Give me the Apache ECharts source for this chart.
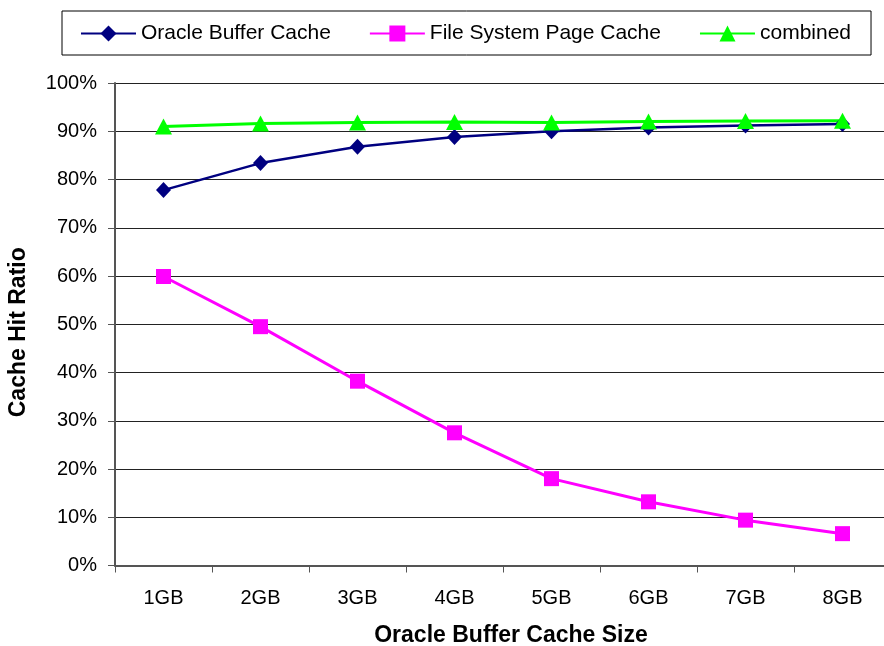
<!DOCTYPE html>
<html>
<head>
<meta charset="utf-8">
<script src="https://cdn.jsdelivr.net/npm/echarts@6/dist/echarts.min.js"></script>
<style>
html,body{margin:0;padding:0;background:#fff;}
#chart{width:884px;height:646px;}
</style>
</head>
<body>
<div id="chart"></div>
<script>
const categories = ['1GB','2GB','3GB','4GB','5GB','6GB','7GB','8GB'];
const oracleBufferCache = [0.778, 0.834, 0.868, 0.888, 0.900, 0.908, 0.912, 0.915];
const fileSystemPageCache = [0.599, 0.495, 0.382, 0.275, 0.180, 0.132, 0.094, 0.066];
const combined = [0.910, 0.916, 0.918, 0.919, 0.918, 0.920, 0.921, 0.922];
const yTicks = {min: 0, max: 1, interval: 0.1};

const FONT = '"Liberation Sans", Arial, sans-serif';
const chart = echarts.init(document.getElementById('chart'), null, {renderer: 'canvas'});
chart.setOption({
  animation: false,
  backgroundColor: '#fff',
  grid: {left: 115, top: 83, width: 776, height: 482.5, containLabel: false, outerBoundsMode: 'none'},
  legend: {
    left: 62, top: 11,
    padding: [12, 20, 11, 18],
    borderColor: '#000', borderWidth: 1,
    itemWidth: 55, itemHeight: 20, itemGap: 38,
    textStyle: {fontFamily: FONT, fontSize: 21, color: '#000'},
    data: ['Oracle Buffer Cache', 'File System Page Cache', 'combined']
  },
  xAxis: {
    type: 'category',
    data: categories,
    boundaryGap: true,
    name: 'Oracle Buffer Cache Size',
    nameLocation: 'middle',
    nameGap: 59,
    nameTextStyle: {fontFamily: FONT, fontSize: 23, fontWeight: 'bold', color: '#000', padding: [0, 0, 0, 16]},
    axisLine: {show: true, lineStyle: {color: '#555', width: 2}},
    axisTick: {show: true, length: 7, interval: 0, alignWithLabel: false, lineStyle: {color: '#555', width: 1}},
    axisLabel: {fontFamily: FONT, fontSize: 20, color: '#000', margin: 23, interval: 0},
    splitLine: {show: false}
  },
  yAxis: {
    type: 'value',
    min: yTicks.min, max: yTicks.max, interval: yTicks.interval,
    name: 'Cache Hit Ratio',
    nameLocation: 'middle',
    nameGap: 85,
    nameTextStyle: {fontFamily: FONT, fontSize: 23, fontWeight: 'bold', color: '#000', padding: [0, 16, 0, 0]},
    axisLine: {show: true, lineStyle: {color: '#555', width: 2}},
    axisTick: {show: true, length: 7, lineStyle: {color: '#555', width: 1}},
    axisLabel: {fontFamily: FONT, fontSize: 20, color: '#000', margin: 18,
      formatter: v => Math.round(v * 100) + '%'},
    splitLine: {show: true, lineStyle: {color: '#222', width: 1}}
  },
  series: [
    {
      name: 'Oracle Buffer Cache', type: 'line', data: oracleBufferCache,
      symbol: 'diamond', symbolSize: [15, 16],
      itemStyle: {color: '#000080'}, lineStyle: {color: '#000080', width: 2.5}
    },
    {
      name: 'File System Page Cache', type: 'line', data: fileSystemPageCache,
      symbol: 'rect', symbolSize: 15,
      itemStyle: {color: '#FF00FF'}, lineStyle: {color: '#FF00FF', width: 3}
    },
    {
      name: 'combined', type: 'line', data: combined,
      symbol: 'triangle', symbolSize: [17, 16],
      itemStyle: {color: '#00FF00'}, lineStyle: {color: '#00FF00', width: 3}
    }
  ]
});
</script>
</body>
</html>
